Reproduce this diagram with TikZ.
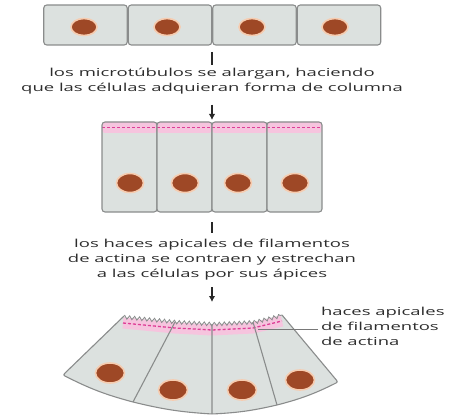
\documentclass[tikz,border=0pt]{standalone}
\usepackage{fontspec}
\newfontfamily\lblfont[FakeStretch=1.68]{Open Sans}
\usetikzlibrary{shapes.geometric,arrows.meta,decorations.pathmorphing}
\begin{document}
\begin{tikzpicture}[x=1pt,y=-1pt,
  every node/.style={outer sep=0pt, inner sep=0pt, font=\lblfont\fontsize{11}{15}\selectfont, text={rgb,255:red,45;green,45;blue,45}},
  cellline/.style={draw={rgb,255:red,138;green,140;blue,140}, line width=1.1pt},
  cellfill/.style={fill={rgb,255:red,220;green,225;blue,223}},
  cellbox/.style={cellline, cellfill, rounded corners=3pt},
  actin/.style={draw={rgb,255:red,222;green,62;blue,150}, line width=1.3pt, dash pattern=on 3pt off 2pt},
  colbox/.style={cellbox, minimum width=55pt, minimum height=90pt, path picture={
    \path[fill={rgb,255:red,246;green,196;blue,222}] (path picture bounding box.north west) rectangle ([yshift=-11pt]path picture bounding box.north east);
    \draw[actin] ([yshift=-5.5pt]path picture bounding box.north west) -- ([yshift=-5.5pt]path picture bounding box.north east);}},
  nucleus/.style={ellipse, fill={rgb,255:red,158;green,72;blue,38}, draw={rgb,255:red,246;green,204;blue,176}, line width=1.6pt},
  stem/.style={line width=2.6pt, draw={rgb,255:red,40;green,40;blue,40}},
  stemarrow/.style={stem, -{Latex[length=6pt,width=6.5pt]}},
  leader/.style={draw={rgb,255:red,120;green,120;blue,120}, line width=0.8pt}]
\useasboundingbox (0,0) rectangle (458,417);

\node[cellbox, minimum width=83.5pt, minimum height=40pt] (cellA1) at (85.5,25) {};
\node[cellbox, minimum width=83.5pt, minimum height=40pt] (cellA2) at (170,25) {};
\node[cellbox, minimum width=83.5pt, minimum height=40pt] (cellA3) at (254.5,25) {};
\node[cellbox, minimum width=83.5pt, minimum height=40pt] (cellA4) at (339,25) {};
\node[nucleus, minimum width=26pt, minimum height=17pt] (nucA1) at (84,27) {};
\node[nucleus, minimum width=26pt, minimum height=17pt] (nucA2) at (167,27) {};
\node[nucleus, minimum width=26pt, minimum height=17pt] (nucA3) at (252,27) {};
\node[nucleus, minimum width=26pt, minimum height=17pt] (nucA4) at (335,27) {};
\coordinate (rowA) at (212,45);

\node[align=center] (txtA) at (212,81.5) {los microtúbulos se alargan, haciendo\\que las células adquieran forma de columna};

\node[colbox] (cellB1) at (129.5,167) {};
\node[colbox] (cellB2) at (184.5,167) {};
\node[colbox] (cellB3) at (239.5,167) {};
\node[colbox] (cellB4) at (294.5,167) {};
\node[nucleus, minimum width=27pt, minimum height=19pt] (nucB1) at (130,183) {};
\node[nucleus, minimum width=27pt, minimum height=19pt] (nucB2) at (185,183) {};
\node[nucleus, minimum width=27pt, minimum height=19pt] (nucB3) at (238,183) {};
\node[nucleus, minimum width=27pt, minimum height=19pt] (nucB4) at (295,183) {};
\coordinate (rowB) at (212,122);
\coordinate (rowBbot) at (212,212);

\node[align=center] (txtB) at (212,260) {los haces apicales de filamentos\\de actina se contraen y estrechan\\a las células por sus ápices};

\coordinate (a0) at (123,317);
\coordinate (a1) at (175,322);
\coordinate (a2) at (212,324);
\coordinate (a3) at (253,322);
\coordinate (a4) at (282,315);
\coordinate (b0) at (63,375);
\coordinate (b1) at (133,402);
\coordinate (b2) at (212,414);
\coordinate (b3) at (277,405);
\coordinate (b4) at (338,382);
\coordinate (fanTop) at (212,310);

\path[cellfill] (a0) -- (a1) -- (a2) -- (a3) -- (a4) -- (b4) to[bend left=6] (b3) to[bend left=5] (b2) to[bend left=5] (b1) to[bend left=6] (b0) -- cycle;
\begin{scope}
\clip (a0) -- (a1) -- (a2) -- (a3) -- (a4) -- (b4) -- (b0) -- cycle;
\draw[line width=11pt, draw={rgb,255:red,246;green,196;blue,222}] ([yshift=-6pt]a0) -- ([yshift=-6pt]a1) -- ([yshift=-6pt]a2) -- ([yshift=-6pt]a3) -- ([yshift=-6pt]a4);
\draw[actin] ([yshift=-6pt]a0) -- ([yshift=-6pt]a1) -- ([yshift=-6pt]a2) -- ([yshift=-6pt]a3) -- ([yshift=-6pt]a4);
\end{scope}
\draw[cellline, rounded corners=2pt] (a0) -- (b0) to[bend right=6] (b1) to[bend right=5] (b2) to[bend right=5] (b3) to[bend right=6] (b4) -- (a4);
\draw[cellline] (a1) -- (b1) (a2) -- (b2) (a3) -- (b3);
\draw[cellline, line width=0.8pt, decorate, decoration={snake, amplitude=1.8pt, segment length=5pt}] (a0) -- (a1) -- (a2) -- (a3) -- (a4);
\node[nucleus, minimum width=29pt, minimum height=20pt] (nucC1) at (110,373) {};
\node[nucleus, minimum width=29pt, minimum height=20pt] (nucC2) at (173,390) {};
\node[nucleus, minimum width=29pt, minimum height=20pt] (nucC3) at (242,390) {};
\node[nucleus, minimum width=29pt, minimum height=20pt] (nucC4) at (300,380) {};

\node[align=left, anchor=west] (lblC) at (321,326.75) {haces apicales\\de filamentos\\de actina};
\coordinate (actinpt) at (258,329);
\draw[leader, shorten >=3pt] (actinpt) -- (actinpt -| lblC.west);

\draw[stem, shorten <=7pt, shorten >=3.5pt] (rowA) -- (txtA);
\draw[stemarrow, shorten <=10pt, shorten >=2pt] (txtA) -- (rowB);
\draw[stem, shorten <=10pt, shorten >=6.5pt] (rowBbot) -- (txtB);
\draw[stemarrow, shorten <=6.5pt, shorten >=8pt] (txtB) -- (fanTop);
\end{tikzpicture}
\end{document}
